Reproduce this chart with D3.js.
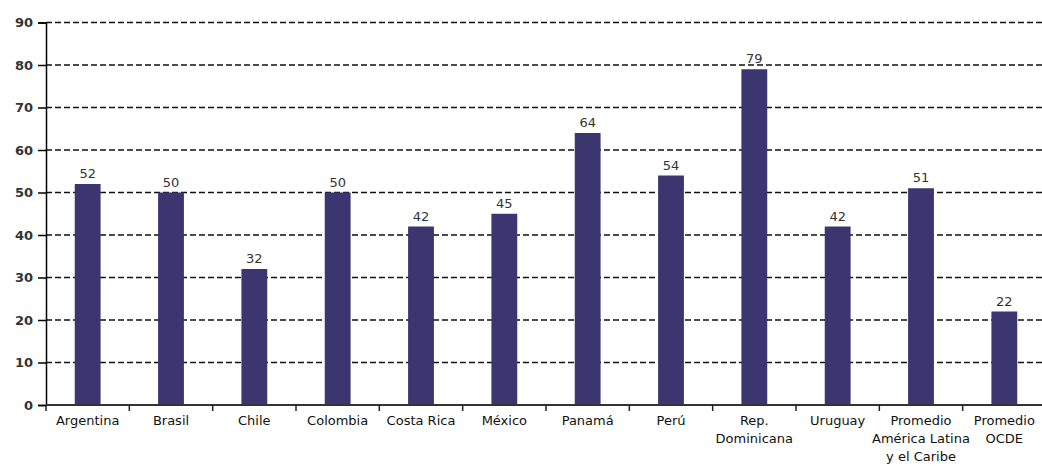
<!DOCTYPE html>
<html>
<head>
<meta charset="utf-8">
<script src="https://cdn.jsdelivr.net/npm/d3@7"></script>
<style>
  html, body { margin: 0; padding: 0; background: #fff; }
  svg { display: block; }
  text { font-family: "DejaVu Sans", "Open Sans", sans-serif; }
</style>
</head>
<body>
<svg id="chart" width="1042" height="466"></svg>
<script>
// Country / aggregate labels (line breaks marked with \n)
const categories = [
  "Argentina", "Brasil", "Chile", "Colombia", "Costa Rica", "México",
  "Panamá", "Perú", "Rep.\nDominicana", "Uruguay",
  "Promedio\nAmérica Latina\ny el Caribe", "Promedio\nOCDE"
];
const values = [52, 50, 32, 50, 42, 45, 64, 54, 79, 42, 51, 22];
const yTicks = [0, 10, 20, 30, 40, 50, 60, 70, 80, 90];

const svg = d3.select("#chart");
const x0 = 46, x1 = 1046, yBase = 405, yTop = 22.5;

const x = d3.scaleBand()
  .domain(categories)
  .range([x0, x1])
  .paddingInner(0.69)
  .paddingOuter(0.345);

const y = d3.scaleLinear().domain([0, 90]).range([yBase, yTop]);

// Dashed horizontal gridlines
svg.append("g")
  .selectAll("line")
  .data(yTicks.filter(d => d > 0))
  .join("line")
  .attr("x1", x0).attr("x2", 1042)
  .attr("y1", d => y(d)).attr("y2", d => y(d))
  .attr("stroke", "#111")
  .attr("stroke-width", 1.3)
  .attr("stroke-dasharray", "6,3");

// Bars
svg.append("g")
  .selectAll("rect")
  .data(values)
  .join("rect")
  .attr("x", (d, i) => x(categories[i]))
  .attr("width", x.bandwidth())
  .attr("y", d => y(d))
  .attr("height", d => yBase - y(d))
  .attr("fill", "#3b3670");

// Value labels above bars
svg.append("g")
  .selectAll("text")
  .data(values)
  .join("text")
  .attr("x", (d, i) => x(categories[i]) + x.bandwidth() / 2)
  .attr("y", d => y(d) - 6)
  .attr("text-anchor", "middle")
  .attr("font-size", 13)
  .attr("fill", "#333")
  .text(d => d);

// Y axis
const yAxis = d3.axisLeft(y).tickValues(yTicks).tickSize(8).tickPadding(5);
const gy = svg.append("g").attr("transform", `translate(${x0},0)`).call(yAxis);
gy.select(".domain").attr("stroke", "#000").attr("stroke-width", 1.5);
gy.selectAll(".tick line").attr("stroke", "#000").attr("stroke-width", 1.5);
gy.selectAll(".tick text")
  .attr("font-size", 13)
  .attr("font-weight", "bold")
  .attr("fill", "#333")
  .style("font-family", "'DejaVu Sans', sans-serif");

// X axis baseline with ticks at band boundaries
const bounds = categories.map(c => x(c) - x.step() * x.paddingInner() / 2);
const gx = svg.append("g");
gx.append("line")
  .attr("x1", x0).attr("x2", 1042)
  .attr("y1", yBase).attr("y2", yBase)
  .attr("stroke", "#333").attr("stroke-width", 2);
gx.selectAll("line.tk")
  .data(bounds)
  .join("line")
  .attr("class", "tk")
  .attr("x1", d => d).attr("x2", d => d)
  .attr("y1", yBase).attr("y2", yBase + 6)
  .attr("stroke", "#222").attr("stroke-width", 1.5);

// Category labels, multi-line
const labels = svg.append("g")
  .selectAll("text")
  .data(categories)
  .join("text")
  .attr("x", d => x(d) + x.bandwidth() / 2)
  .attr("y", 425)
  .attr("text-anchor", "middle")
  .attr("font-size", 13)
  .attr("fill", "#111");
labels.each(function(d) {
  const t = d3.select(this);
  const cx = +t.attr("x");
  d.split("\n").forEach((line, i) => {
    t.append("tspan").attr("x", cx).attr("dy", i === 0 ? 0 : 18).text(line);
  });
});
</script>
</body>
</html>
